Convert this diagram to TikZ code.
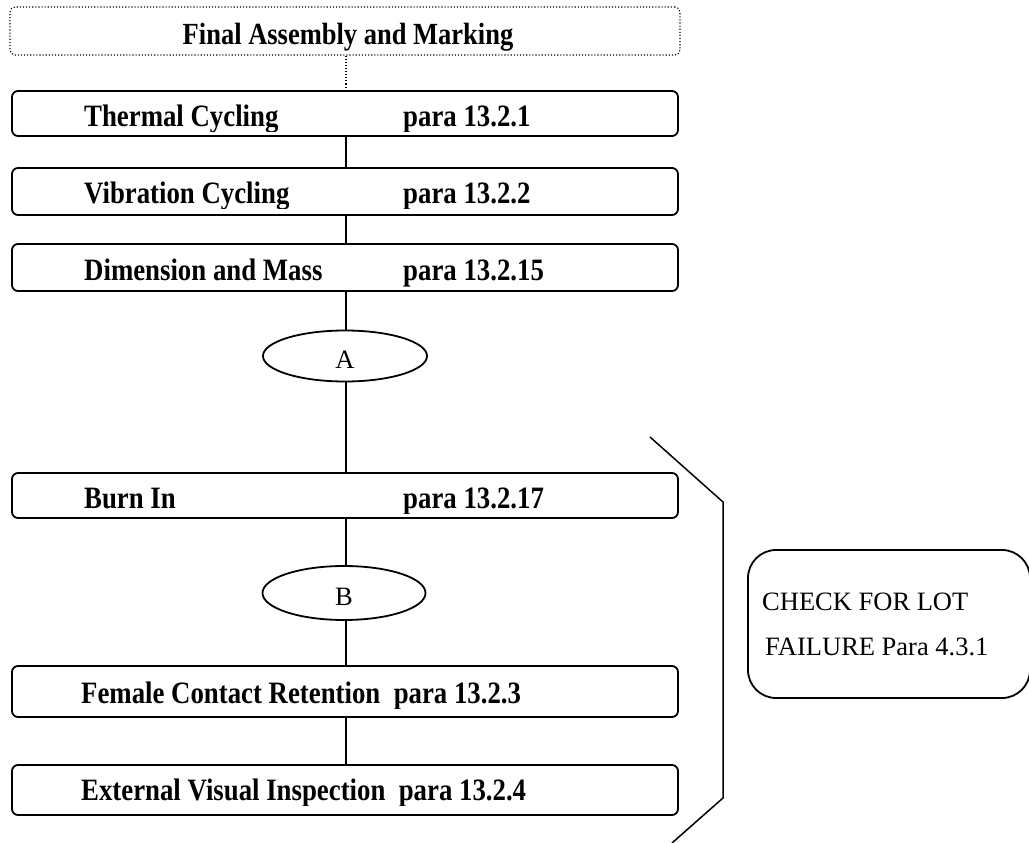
\documentclass[tikz,border=0pt]{standalone}
\usepackage{fontspec}
\usepackage{graphicx}
\setmainfont{Liberation Serif}
\usetikzlibrary{shapes.geometric}
\newcommand\bt[1]{\scalebox{1}[1.16]{\bfseries #1}}
\newcommand\lowr[1]{\raisebox{-4pt}[0.66em][0pt]{#1}}
\tikzset{
  stepbox/.style={draw, line width=1.8pt, rounded corners=6pt, minimum width=666pt, inner sep=0pt, outer sep=0pt},
  conn/.style={line width=1.8pt},
  lbl/.style={anchor=base west, inner sep=0pt, font=\fontsize{26.8}{30}\selectfont},
  oval/.style={draw, ellipse, line width=1.8pt, inner sep=0pt, font=\fontsize{26.5}{30}\selectfont},
  plain/.style={anchor=base west, inner sep=0pt, font=\fontsize{26.5}{30}\selectfont},
}
\begin{document}
\begin{tikzpicture}[x=1pt,y=-1pt]
\clip (0,0) rectangle (1029,843);
% top dotted box
\node[draw, dotted, line width=1.1pt, rounded corners=5pt, minimum width=670pt, minimum height=48pt, inner sep=0pt] (fa) at (345,31) {};
\node[anchor=base, inner sep=0pt, font=\fontsize{26.5}{30}\selectfont] (fat) at (348,45) {\bt{Final Assembly and Marking}};
% process boxes
\node[stepbox, minimum height=45pt] (b1) at (345,113.5) {};
\node[stepbox, minimum height=47pt] (b2) at (345,191.5) {};
\node[stepbox, minimum height=47pt] (b3) at (345,267.5) {};
\node[oval, minimum width=164pt, minimum height=51pt] (ea) at (345,356) {\lowr{A}};
\node[stepbox, minimum height=45pt] (b4) at (345,495.5) {};
\node[oval, minimum width=163pt, minimum height=54pt] (eb) at (344,593) {\lowr{B}};
\node[stepbox, minimum height=51pt] (b5) at (345,691.5) {};
\node[stepbox, minimum height=50pt] (b6) at (345,790) {};
% labels (descenders cut as in the original)
\begin{scope}
\clip (0,95) rectangle (700,131);
\node[lbl] (l1a) at (84,126) {\bt{Thermal Cycling}};
\node[lbl] (l1b) at (403,126) {\bt{para 13.2.1}};
\end{scope}
\begin{scope}
\clip (0,172) rectangle (700,208);
\node[lbl] (l2a) at (84,203) {\bt{Vibration Cycling}};
\node[lbl] (l2b) at (403,203) {\bt{para 13.2.2}};
\end{scope}
\begin{scope}
\clip (0,248) rectangle (700,286);
\node[lbl] (l3a) at (84,280) {\bt{Dimension and Mass}};
\node[lbl] (l3b) at (403,280) {\bt{para 13.2.15}};
\end{scope}
\begin{scope}
\clip (0,477) rectangle (700,513);
\node[lbl] (l4a) at (84,508) {\bt{Burn In}};
\node[lbl] (l4b) at (403,508) {\bt{para 13.2.17}};
\end{scope}
\begin{scope}
\clip (0,670) rectangle (700,708);
\node[lbl] (l5a) at (81,703) {\bt{Female Contact Retention\ \ para 13.2.3}};
\end{scope}
\begin{scope}
\clip (0,769) rectangle (700,805);
\node[lbl] (l6a) at (81,800) {\bt{External Visual Inspection\ \ para 13.2.4}};
\end{scope}
% connectors
\draw[dotted, line width=1.1pt] (fa.south -| 346,0) -- (b1.north -| 346,0);
\draw[conn] (b1.south -| 346,0) -- (b2.north -| 346,0);
\draw[conn] (b2.south -| 346,0) -- (b3.north -| 346,0);
\draw[conn] (b3.south -| 346,0) -- (ea.north -| 346,0);
\draw[conn] (ea.south -| 346,0) -- (b4.north -| 346,0);
\draw[conn] (b4.south -| 346,0) -- (eb.north -| 346,0);
\draw[conn] (eb.south -| 346,0) -- (b5.north -| 346,0);
\draw[conn] (b5.south -| 346,0) -- (b6.north -| 346,0);
% bracket
\coordinate (k1) at (650,437);
\coordinate (k2) at (723,502);
\coordinate (k3) at (723,798);
\coordinate (k4) at (672,843);
\draw[line width=1.5pt] (k1) -- (k2) -- (k3) -- (k4);
% check box
\node[draw, line width=1.8pt, rounded corners=28pt, minimum width=282pt, minimum height=148pt, inner sep=0pt] (chk) at (889,624) {};
\node[plain] (c1) at (762,610) {CHECK FOR LOT};
\node[plain] (c2) at (765,655) {FAILURE Para 4.3.1};
\end{tikzpicture}
\end{document}
